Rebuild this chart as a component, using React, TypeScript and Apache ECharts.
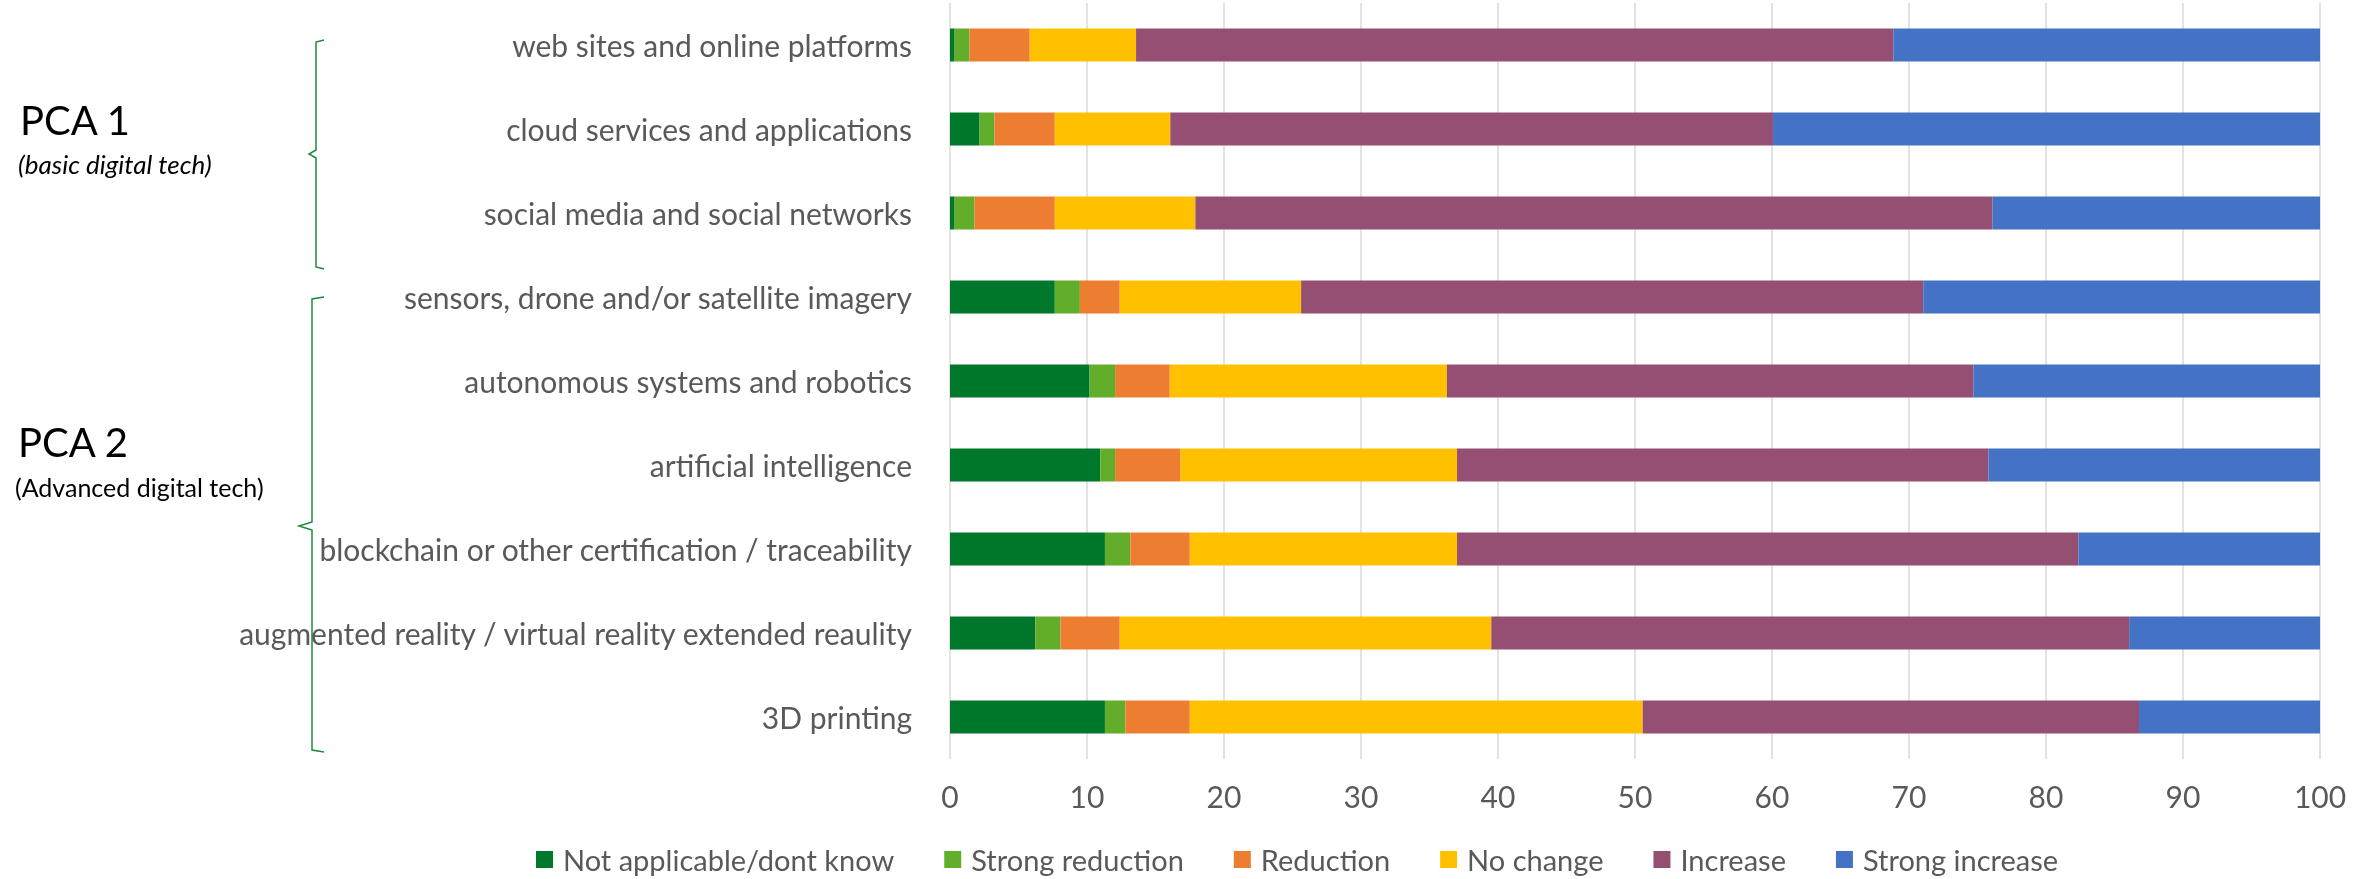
import React, { useEffect, useRef } from "react";
import * as echarts from "echarts";

const categories = [
  "web sites and online platforms",
  "cloud services and applications",
  "social media and social networks",
  "sensors, drone and/or satellite imagery",
  "autonomous systems and robotics",
  "artificial intelligence",
  "blockchain or other certification / traceability",
  "augmented reality / virtual reality extended reaulity",
  "3D printing",
];

const seriesNames = [
  "Not applicable/dont know",
  "Strong reduction",
  "Reduction",
  "No change",
  "Increase",
  "Strong increase",
];

const notApplicable = [0.34, 2.16, 0.34, 7.65, 10.19, 10.97, 11.31, 6.23, 11.31];
const strongReduction = [1.08, 1.09, 1.45, 1.83, 1.86, 1.08, 1.86, 1.83, 1.49];
const reduction = [4.4, 4.4, 5.86, 2.91, 3.99, 4.78, 4.33, 4.33, 4.7];
const noChange = [7.76, 8.43, 10.26, 13.24, 20.23, 20.18, 19.51, 27.12, 33.06];
const increase = [55.28, 43.99, 58.19, 45.41, 38.44, 38.78, 45.35, 46.56, 36.23];
const strongIncrease = [31.14, 39.93, 23.9, 28.96, 25.29, 24.21, 17.64, 13.93, 13.21];

const colors = ["#00782B", "#62AD29", "#ED7D31", "#FFC000", "#954F72", "#4472C4"];

const xTicks = [0, 10, 20, 30, 40, 50, 60, 70, 80, 90, 100];

const FONT = "Lato";
const GREY = "#595959";
const BRACE = "#1E8A3A";

export default function App() {
  const ref = useRef<HTMLDivElement>(null);

  useEffect(() => {
    if (!ref.current) return;
    const chart = echarts.init(ref.current, undefined, { renderer: "svg" });
    const values = [notApplicable, strongReduction, reduction, noChange, increase, strongIncrease];
    chart.setOption({
      animation: false,
      color: colors,
      textStyle: { fontFamily: FONT },
      grid: { left: 950, right: 48, top: 3, bottom: 120, containLabel: false },
      xAxis: {
        type: "value",
        min: xTicks[0],
        max: xTicks[xTicks.length - 1],
        interval: 10,
        axisLine: { show: false },
        axisTick: { show: false },
        axisLabel: { color: GREY, fontSize: 30, fontFamily: FONT, margin: 22 },
        splitLine: { show: true, lineStyle: { color: "#D9D9D9", width: 1.5 } },
      },
      yAxis: {
        type: "category",
        inverse: true,
        data: categories,
        axisLine: { show: false },
        axisTick: { show: false },
        axisLabel: { color: GREY, fontSize: 30, fontFamily: FONT, margin: 38 },
      },
      legend: {
        left: 536,
        top: 845,
        padding: 0,
        itemWidth: 17,
        itemHeight: 17,
        itemGap: 50,
        icon: "rect",
        textStyle: { color: GREY, fontSize: 29, lineHeight: 28, fontFamily: FONT, padding: [0, 0, 0, 5] },
        data: seriesNames,
      },
      series: seriesNames.map((name, i) => ({
        name,
        type: "bar",
        stack: "total",
        barWidth: 33,
        data: values[i],
        itemStyle: { color: colors[i] },
      })),
      graphic: [
        { type: "text", left: 20, top: 100, style: { text: "PCA 1", font: `40px ${FONT}`, fill: "#000" } },
        { type: "text", left: 18, top: 151, style: { text: "(basic digital tech)", font: `italic 26px ${FONT}`, fill: "#000" } },
        { type: "text", left: 18, top: 422, style: { text: "PCA 2", font: `40px ${FONT}`, fill: "#000" } },
        { type: "text", left: 15, top: 474, style: { text: "(Advanced digital tech)", font: `25px ${FONT}`, fill: "#000" } },
        {
          type: "polyline",
          shape: { points: [[324, 40], [316, 42], [316, 150], [309, 154], [316, 158], [316, 267], [324, 269]] },
          style: { stroke: BRACE, lineWidth: 1.5, fill: "none" },
        },
        {
          type: "polyline",
          shape: { points: [[324, 297], [312, 299], [312, 522], [299, 526], [312, 530], [312, 750], [324, 752]] },
          style: { stroke: BRACE, lineWidth: 1.5, fill: "none" },
        },
      ],
    });
    return () => chart.dispose();
  }, []);

  return <div ref={ref} style={{ position: "fixed", left: 0, top: 0, width: 2368, height: 879 }} />;
}
